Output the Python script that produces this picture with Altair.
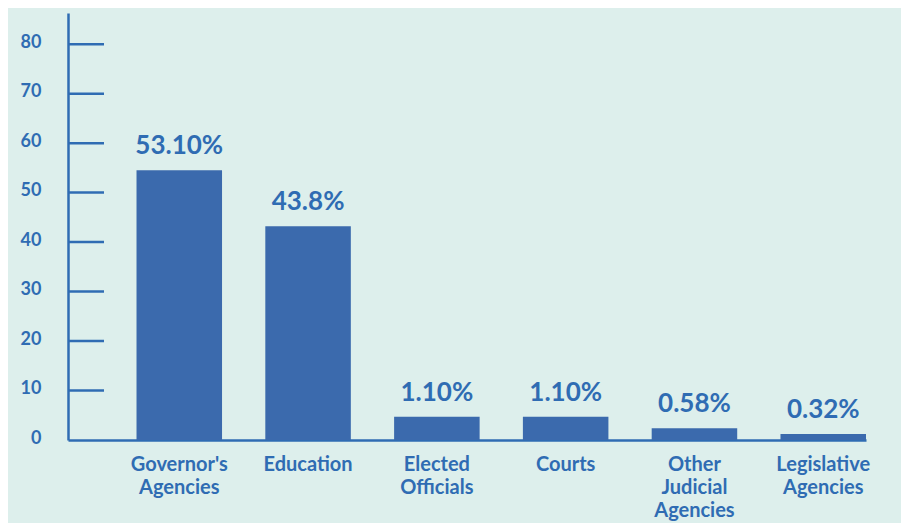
import altair as alt
import pandas as pd

categories = ["Governor's\nAgencies", "Education", "Elected\nOfficials", "Courts",
              "Other\nJudicial\nAgencies", "Legislative\nAgencies"]
bar_values = [54.5, 43.2, 4.7, 4.7, 2.4, 1.2]
value_labels = ["53.10%", "43.8%", "1.10%", "1.10%", "0.58%", "0.32%"]
y_ticks = [10, 20, 30, 40, 50, 60, 70, 80]

BG = "#ddefec"
BAR = "#3b6aad"
TXT = "#2f6cb3"
FONT = "Lato"

df = pd.DataFrame({"cat": categories, "val": bar_values, "lab": value_labels})
ticks_df = pd.DataFrame({"t": y_ticks})

x_enc = alt.X("cat:N", sort=categories,
              scale=alt.Scale(paddingInner=0.336, paddingOuter=0.266, align=1),
              axis=alt.Axis(title=None, labelAngle=0, ticks=False, tickSize=0,
                            labelPadding=14, labelFontSize=20, labelFont=FONT,
                            labelFontWeight="bold", labelColor=TXT, labelLineHeight=23,
                            labelExpr="split(datum.label, '\\n')",
                            domainColor=TXT, domainWidth=2.5))
y_scale = alt.Scale(domain=[0, 86.3], nice=False)
y_enc = alt.Y("val:Q", scale=y_scale,
              axis=alt.Axis(title=None, values=[0] + y_ticks, ticks=False, tickSize=0,
                            grid=False, labelPadding=27, labelFontSize=18,
                            labelFont=FONT, labelFontWeight="bold", labelColor=TXT,
                            labelOffset=-2, domainColor=TXT, domainWidth=2.5))

bars = alt.Chart(df).mark_bar(color=BAR).encode(x=x_enc, y=y_enc)
texts = alt.Chart(df).mark_text(font=FONT, fontSize=26, fontWeight="bold", color=TXT,
                                baseline="alphabetic", dy=-16).encode(
    x=alt.X("cat:N", sort=categories), y=alt.Y("val:Q"), text="lab:N")
tick_rules = alt.Chart(ticks_df).mark_rule(color=TXT, strokeWidth=2.5).encode(
    y=alt.Y("t:Q", scale=y_scale), x=alt.value(0), x2=alt.value(36))

chart = alt.layer(bars, texts, tick_rules).properties(
    width=798, height=427, background=BG,
    autosize=alt.AutoSizeParams(type="none"),
    padding={"left": 60, "top": 5, "right": 35, "bottom": 83},
).configure_view(stroke=None)

chart.save("out.html", embed_options={"renderer": "svg", "actions": False})
